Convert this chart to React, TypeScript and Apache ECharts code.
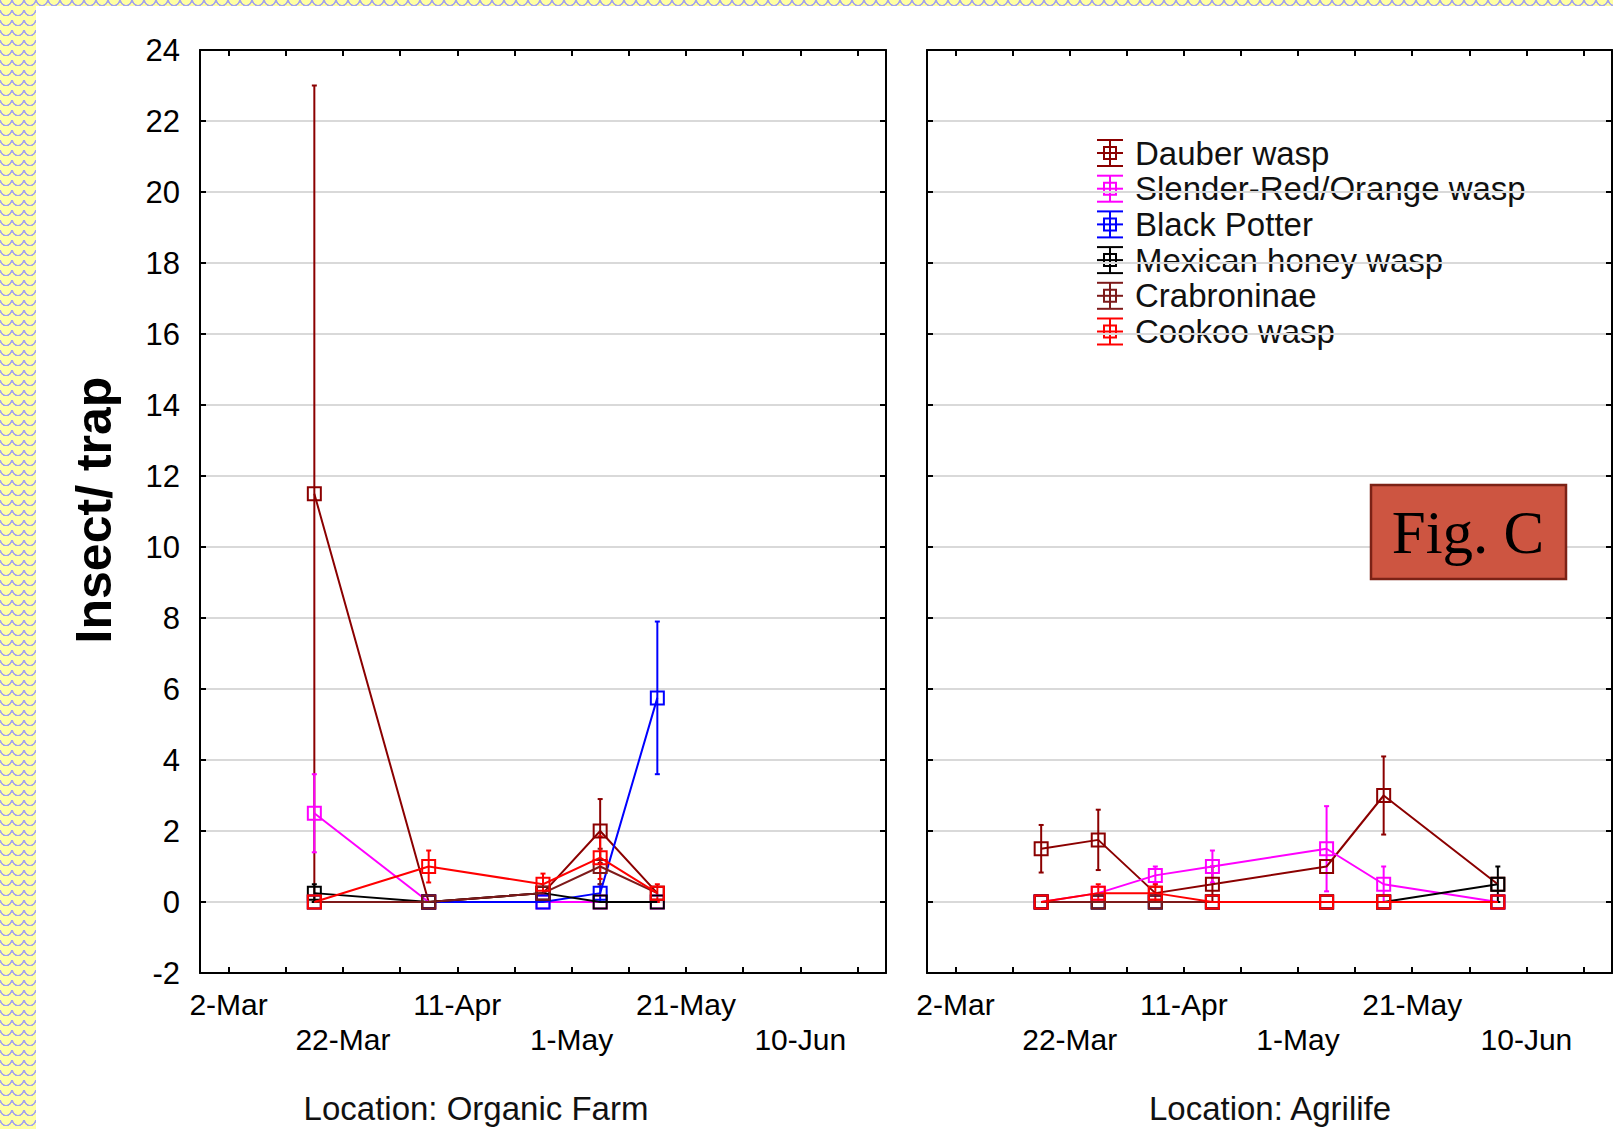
import React, { useEffect, useRef } from 'react';
import * as echarts from 'echarts';

// ---------- data ----------
const speciesNames = ['Dauber wasp', 'Slender-Red/Orange wasp', 'Black Potter', 'Mexican honey wasp', 'Crabroninae', 'Cookoo wasp'];
const speciesColors = ['#8b0000', '#ff00ff', '#0000ff', '#000000', '#7d1a1a', '#ff0000'];

// days counted from 2-Mar
const tickDays = [0, 10, 20, 30, 40, 50, 60, 70, 80, 90, 100, 110];
const tickLabelDays = [0, 20, 40, 60, 80, 100];
const tickLabels = ['2-Mar', '22-Mar', '11-Apr', '1-May', '21-May', '10-Jun'];
const panelTitles = ['Location: Organic Farm', 'Location: Agrilife'];
const yAxisTitle = 'Insect/ trap';
const figLabel = 'Fig. C';

// Organic Farm
const organicDays = [15, 35, 55, 65, 75];
const organicDauber = [11.5, 0, 0.25, 2.0, 0.25];
const organicDauberErr = [11.5, 0, 0, 0.9, 0];
const organicSlender = [2.5, 0, 0, 0, 0];
const organicSlenderErr = [1.1, 0, 0, 0, 0];
const organicPotter = [0, 0, 0, 0.25, 5.75];
const organicPotterErr = [0, 0, 0, 0.25, 2.15];
const organicMexican = [0.25, 0, 0.25, 0, 0];
const organicMexicanErr = [0.25, 0, 0, 0, 0];
const organicCrab = [0, 0, 0.25, 1.0, 0.25];
const organicCrabErr = [0, 0, 0, 0.5, 0];
const organicCookoo = [0, 1.0, 0.5, 1.25, 0.25];
const organicCookooErr = [0, 0.45, 0.3, 0.6, 0.25];

// Agrilife
const agrilifeDays = [15, 25, 35, 45, 65, 75, 95];
const agrilifeDauber = [1.5, 1.75, 0.25, 0.5, 1.0, 3.0, 0.5];
const agrilifeDauberErr = [0.67, 0.85, 0, 0.5, 0, 1.1, 0];
const agrilifeSlender = [0, 0.25, 0.75, 1.0, 1.5, 0.5, 0];
const agrilifeSlenderErr = [0, 0, 0.25, 0.45, 1.2, 0.5, 0];
const agrilifePotter = [0, 0, 0, 0, 0, 0, 0];
const agrilifePotterErr = [0, 0, 0, 0, 0, 0, 0];
const agrilifeMexican = [0, 0, 0, 0, 0, 0, 0.5];
const agrilifeMexicanErr = [0, 0, 0, 0, 0, 0, 0.5];
const agrilifeCrab = [0, 0, 0, 0, 0, 0, 0];
const agrilifeCrabErr = [0, 0, 0, 0, 0, 0, 0];
const agrilifeCookoo = [0, 0.25, 0.25, 0, 0, 0, 0];
const agrilifeCookooErr = [0, 0.25, 0.25, 0, 0, 0, 0];

const panels = [
  {
    days: organicDays,
    means: [organicDauber, organicSlender, organicPotter, organicMexican, organicCrab, organicCookoo],
    errs: [organicDauberErr, organicSlenderErr, organicPotterErr, organicMexicanErr, organicCrabErr, organicCookooErr],
  },
  {
    days: agrilifeDays,
    means: [agrilifeDauber, agrilifeSlender, agrilifePotter, agrilifeMexican, agrilifeCrab, agrilifeCookoo],
    errs: [agrilifeDauberErr, agrilifeSlenderErr, agrilifePotterErr, agrilifeMexicanErr, agrilifeCrabErr, agrilifeCookooErr],
  },
];

const FONT = '"Liberation Sans", Arial, sans-serif';

function buildOption() {
  const grids = [
    { left: 200, top: 50, width: 686, height: 923 },
    { left: 927, top: 50, width: 685, height: 923 },
  ];
  const frameLine = { show: true, onZero: false, lineStyle: { color: '#000', width: 2 } };
  const xTick = { show: true, inside: true, length: 6, customValues: tickDays, lineStyle: { color: '#000', width: 2 } };
  const yTick = { show: true, inside: true, length: 6, lineStyle: { color: '#000', width: 2 } };

  const xFormatter = (v: number) => {
    const i = tickLabelDays.indexOf(Math.round(Number(v)));
    if (i < 0) return '';
    return i % 2 === 0 ? tickLabels[i] : '\n' + tickLabels[i];
  };

  const xAxis: any[] = [];
  const yAxis: any[] = [];
  [0, 1].forEach((p) => {
    xAxis.push({
      gridIndex: p, type: 'value', min: -5, max: 115, position: 'bottom',
      axisLine: frameLine, axisTick: xTick, splitLine: { show: false },
      axisLabel: { customValues: tickLabelDays, formatter: xFormatter, fontSize: 30, lineHeight: 35, margin: 14, color: '#000', fontFamily: FONT },
    });
    xAxis.push({
      gridIndex: p, type: 'value', min: -5, max: 115, position: 'top',
      axisLine: frameLine, axisTick: xTick, splitLine: { show: false }, axisLabel: { show: false },
    });
    yAxis.push({
      gridIndex: p, type: 'value', min: -2, max: 24, interval: 2, position: 'left',
      axisLine: frameLine, axisTick: yTick,
      splitLine: { show: true, lineStyle: { color: '#d9d9d9', width: 2 } },
      axisLabel: { show: p === 0, fontSize: 31, margin: 20, color: '#000', fontFamily: FONT },
    });
    yAxis.push({
      gridIndex: p, type: 'value', min: -2, max: 24, interval: 2, position: 'right',
      axisLine: frameLine, axisTick: yTick, splitLine: { show: false }, axisLabel: { show: false },
    });
  });

  const series: any[] = [];
  panels.forEach((panel, p) => {
    speciesNames.forEach((name, s) => {
      const color = speciesColors[s];
      const errData = panel.days
        .map((d, i) => [d, panel.means[s][i], panel.errs[s][i]])
        .filter((r) => r[2] > 0);
      series.push({
        type: 'custom',
        name: name + ' error',
        xAxisIndex: 2 * p,
        yAxisIndex: 2 * p,
        data: errData,
        encode: { x: 0, y: 1 },
        silent: true,
        z: 2 + s,
        renderItem: (params: any, api: any) => {
          const x = api.value(0);
          const m = api.value(1);
          const e = api.value(2);
          const top = api.coord([x, m + e]);
          const bot = api.coord([x, m - e]);
          const cw = 2.5;
          const st = { stroke: color, lineWidth: 2 };
          return {
            type: 'group',
            children: [
              { type: 'line', shape: { x1: top[0], y1: top[1], x2: bot[0], y2: bot[1] }, style: st },
              { type: 'line', shape: { x1: top[0] - cw, y1: top[1], x2: top[0] + cw, y2: top[1] }, style: st },
              { type: 'line', shape: { x1: bot[0] - cw, y1: bot[1], x2: bot[0] + cw, y2: bot[1] }, style: st },
            ],
          };
        },
      });
      series.push({
        type: 'line',
        name,
        xAxisIndex: 2 * p,
        yAxisIndex: 2 * p,
        data: panel.days.map((d, i) => [d, panel.means[s][i]]),
        symbol: 'rect',
        symbolSize: 13,
        showAllSymbol: true,
        lineStyle: { color, width: 2 },
        itemStyle: { color: 'rgba(0,0,0,0)', borderColor: color, borderWidth: 2 },
        emphasis: { disabled: true },
        silent: true,
        z: 10 + s,
      });
    });
  });

  const graphic: any[] = [];
  graphic.push({
    type: 'text', x: 94, y: 510, rotation: Math.PI / 2,
    style: { text: yAxisTitle, font: `bold 50px ${FONT}`, fill: '#000', align: 'center', verticalAlign: 'middle' },
  });
  [476, 1270].forEach((cx, p) => {
    graphic.push({
      type: 'text', x: cx, y: 1108,
      style: { text: panelTitles[p], font: `33px ${FONT}`, fill: '#111', align: 'center', verticalAlign: 'middle' },
    });
  });
  speciesNames.forEach((name, s) => {
    const cy = 153 + s * 35.7;
    const cx = 1110;
    const c = speciesColors[s];
    const st = { stroke: c, lineWidth: 2, fill: null };
    graphic.push({
      type: 'group',
      children: [
        { type: 'line', shape: { x1: cx, y1: cy - 13, x2: cx, y2: cy + 13 }, style: st },
        { type: 'line', shape: { x1: cx - 13, y1: cy - 13, x2: cx + 13, y2: cy - 13 }, style: st },
        { type: 'line', shape: { x1: cx - 13, y1: cy + 13, x2: cx + 13, y2: cy + 13 }, style: st },
        { type: 'line', shape: { x1: cx - 13, y1: cy, x2: cx + 13, y2: cy }, style: st },
        { type: 'rect', shape: { x: cx - 6, y: cy - 6, width: 12, height: 12 }, style: { stroke: c, lineWidth: 2, fill: 'rgba(0,0,0,0)' } },
        { type: 'text', x: 1135, y: cy, style: { text: name, font: `33px ${FONT}`, fill: '#111', align: 'left', verticalAlign: 'middle' } },
      ],
    });
  });
  graphic.push({
    type: 'rect', shape: { x: 1371, y: 485, width: 195, height: 94 },
    style: { fill: '#cd5541', stroke: '#7b2216', lineWidth: 2.5 }, z: 100,
  });
  graphic.push({
    type: 'text', x: 1468, y: 532, z: 101,
    style: { text: figLabel, font: '61px "Liberation Serif", "Times New Roman", serif', fill: '#000', align: 'center', verticalAlign: 'middle' },
  });

  return {
    animation: false,
    backgroundColor: 'transparent',
    grid: grids,
    xAxis,
    yAxis,
    series,
    graphic,
  };
}

export default function App() {
  const ref = useRef<HTMLDivElement>(null);
  useEffect(() => {
    if (!ref.current) return;
    const chart = echarts.init(ref.current, undefined, { renderer: 'svg' });
    chart.setOption(buildOption() as any);
    return () => chart.dispose();
  }, []);

  const pattern: React.CSSProperties = {
    position: 'absolute',
    backgroundColor: '#ffffa3',
    backgroundImage:
      'radial-gradient(circle at 50% 0%, rgba(0,0,0,0) 4.5px, #a3a3ee 5px, #a3a3ee 6px, rgba(0,0,0,0) 6.5px)',
    backgroundSize: '12px 10px',
  };

  return (
    <div style={{ position: 'fixed', left: 0, top: 0, width: 1613, height: 1129, overflow: 'hidden', background: '#fff' }}>
      <div style={{ ...pattern, left: 0, top: 0, width: 36, height: 1129 }} />
      <div style={{ ...pattern, left: 0, top: 0, width: 1613, height: 6 }} />
      <div ref={ref} style={{ position: 'absolute', left: 0, top: 0, width: 1613, height: 1129 }} />
    </div>
  );
}
